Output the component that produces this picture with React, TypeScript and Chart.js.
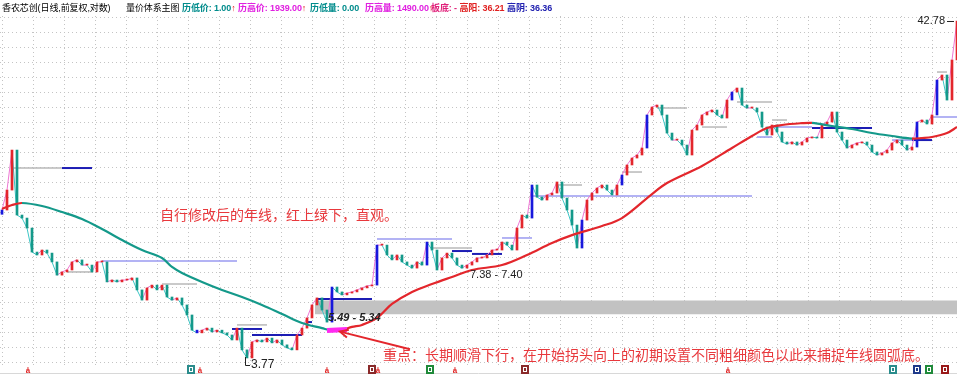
import React, { useEffect, useRef } from 'react';
import { Chart, registerables } from 'chart.js';
Chart.register(...registerables);

// daily closes (log price scale)
const closes = [
  11.13, 12.83, 17.06, 10.74, 10.51, 9.79, 8.25, 8.08, 8.37, 8.19,
  7.69, 7.00, 7.16, 7.26, 7.69, 7.80, 7.52, 7.52, 7.16, 7.69,
  7.69, 6.67, 6.76, 6.67, 6.76, 6.76, 6.86, 6.30, 5.86, 6.39,
  6.52, 6.30, 6.52, 5.99, 5.86, 5.95, 5.66, 5.27, 4.73, 4.64,
  4.73, 4.80, 4.67, 4.73, 4.64, 4.57, 4.41, 4.80, 4.11, 3.88,
  4.35, 4.41, 4.35, 4.47, 4.32, 4.41, 4.26, 4.17, 4.11, 4.57,
  4.80, 5.16, 5.66, 5.95, 5.46, 5.01, 6.43, 6.21, 6.08, 6.16,
  6.21, 6.30, 6.39, 6.48, 6.52, 8.67, 8.67, 8.08, 7.80, 8.08,
  7.69, 7.52, 7.36, 7.69, 7.52, 8.86, 8.37, 7.26, 7.91, 8.19,
  7.91, 7.52, 7.36, 7.52, 7.69, 7.91, 7.91, 8.08, 8.37, 8.37,
  8.86, 8.67, 8.37, 9.79, 10.74, 10.51, 13.30, 12.21, 11.95, 12.39,
  12.56, 13.59, 12.12, 11.13, 10.00, 8.49, 10.36, 11.95, 12.56, 13.02,
  13.30, 12.83, 12.39, 13.30, 14.28, 15.34, 16.12, 16.47, 17.31, 21.90,
  23.18, 23.51, 21.90, 19.26, 18.32, 18.32, 17.68, 16.47, 19.67, 20.39,
  21.90, 22.37, 22.69, 21.90, 21.43, 24.36, 25.79, 26.54, 23.51, 23.02,
  23.02, 22.37, 20.10, 18.99, 20.39, 19.40, 18.07, 17.81, 18.07, 17.68,
  18.07, 18.59, 18.72, 18.59, 20.39, 20.83, 22.37, 19.40, 18.32, 17.31,
  17.68, 17.94, 18.07, 17.68, 16.83, 16.47, 16.71, 17.06, 17.94, 18.32,
  17.68, 17.06, 17.43, 20.83, 21.13, 20.54, 21.90, 28.09, 29.12, 24.36,
  32.40, 42.78,
];

// limit-up style (blue) days
const bigDays = [0, 39, 66, 75, 85, 106, 116, 124, 129, 146, 183, 187];

// annual moving average (年线)
const maDays = [0, 2, 4, 8, 12, 16, 20, 24, 28, 32, 34, 36, 40, 44, 48, 52, 56, 60, 64, 66, 68, 70, 72, 75, 78, 82, 86, 90, 94, 100, 105, 110, 114, 120, 124, 130, 133, 140, 146, 150, 153, 156, 160, 162, 166, 170, 174, 178, 182, 184, 186, 189, 191];
const maValues = [11.21, 11.53, 11.70, 11.45, 10.97, 10.44, 9.72, 8.99, 8.37, 7.91, 7.42, 7.11, 6.67, 6.30, 5.99, 5.66, 5.31, 4.98, 4.80, 4.72, 4.74, 4.84, 4.91, 5.16, 5.70, 6.21, 6.57, 6.91, 7.26, 7.52, 8.08, 8.80, 9.31, 9.93, 10.51, 12.47, 13.49, 15.23, 17.31, 18.86, 19.96, 20.39, 20.66, 20.70, 20.25, 19.82, 19.26, 18.86, 18.52, 18.59, 18.72, 19.26, 20.10];

// turning section of the annual line
const turnDays = [65, 69];
const turnValues = [4.72, 4.75];

// horizontal price levels
const levelStart = [2, 12, 20, 13, 32, 47, 46, 50, 61, 63, 75, 86, 90, 94, 100, 106, 111, 124, 131, 140, 147, 151, 154, 154, 162, 178, 182, 187, 186];
const levelEnd = [12, 18, 47, 18, 39, 53, 52, 60, 62, 74, 90, 94, 94, 100, 106, 150, 116, 128, 137, 145, 154, 154, 157, 162, 174, 182, 186, 189, 191];
const levelPrice = [15.01, 15.01, 7.74, 7.16, 6.57, 4.91, 4.77, 4.57, 5.01, 5.90, 9.05, 8.49, 8.31, 8.14, 9.12, 12.30, 13.30, 14.59, 23.02, 20.10, 24.02, 18.72, 21.13, 20.10, 19.96, 18.32, 18.32, 29.74, 21.59];
const levelKind = ['gray', 'blue', 'lav', 'gray', 'gray', 'gray', 'blue', 'blue', 'blue', 'blue', 'lav', 'gray', 'blue', 'blue', 'lav', 'lav', 'gray', 'gray', 'gray', 'gray', 'gray', 'lav', 'gray', 'lav', 'blue', 'lav', 'blue', 'gray', 'lav'];

// grey zone
const bandStart = 62.6;
const bandEnd = 191.5;
const bandLow = 5.30;
const bandHigh = 5.84;

// price labels
const labelTexts = ['3.77', '5.49 - 5.34', '7.38 - 7.40', '42.78'];
const labelDays = [48.6, 65, 93.6, 191];
const labelPrices = [3.77, 5.16, 7.0, 42.78];

// notes
const noteTexts = ['自行修改后的年线，红上绿下，直观。', '重点：长期顺滑下行，在开始拐头向上的初期设置不同粗细颜色以此来捕捉年线圆弧底。'];
const noteDays = [31.6, 76.2];
const notePrices = [10.74, 3.96];
const arrowFrom = [81.6, 4.13];
const arrowTo = [67.6, 4.68];

// bottom event markers
const markDays = [5.2, 39.6, 65, 75.2, 90.6, 145.2];
const iconDays = [37.8, 74, 85.6, 104.6, 178.2, 183, 185.4, 188.6];
const iconKinds = ['teal', 'brown', 'green', 'brown', 'teal', 'blue', 'green', 'red'];

const RED = '#e3262c';
const TEAL = '#14998a';
const kindColor: Record<string, string> = { gray: '#b8b8b8', blue: '#1c1cb4', lav: '#9a9af0' };
const iconColor: Record<string, string> = { teal: '#2a8c8c', brown: '#8a2a2a', green: '#1f8a3a', blue: '#1f3a8a', red: '#9a1a1a' };

export default function App() {
  const ref = useRef<HTMLCanvasElement>(null);
  useEffect(() => {
    const canvas = ref.current!;
    const candles = closes.map((c, i) => ({ x: i, y: [i ? closes[i - 1] : c * 0.97, c] }));
    const candleColors = closes.map((c, i) => {
      if (bigDays.includes(i)) return '#1818dc';
      const p = i ? closes[i - 1] : c;
      return c >= p ? RED : TEAL;
    });
    const levelSets = levelStart.map((s, k) => ({
      type: 'line' as const,
      data: [{ x: s, y: levelPrice[k] }, { x: levelEnd[k], y: levelPrice[k] }],
      borderColor: kindColor[levelKind[k]],
      borderWidth: levelKind[k] === 'blue' ? 2 : 1.5,
      pointRadius: 0,
      order: 8,
    }));

    const overlay = {
      id: 'overlay',
      beforeDatasetsDraw(chart: any) {
        const { ctx, chartArea } = chart;
        ctx.save();
        ctx.strokeStyle = '#c4c4c4';
        ctx.lineWidth = 1;
        ctx.setLineDash([1, 3]);
        for (let y = 362.5; y > 14; y -= 15) {
          ctx.beginPath(); ctx.moveTo(chartArea.left, y); ctx.lineTo(chartArea.right, y); ctx.stroke();
        }
        for (let x = 2.5; x < chartArea.right; x += 31) {
          ctx.beginPath(); ctx.moveTo(x, 16); ctx.lineTo(x, 366); ctx.stroke();
        }
        ctx.setLineDash([]);
        ctx.strokeStyle = '#d8d8d8';
        ctx.beginPath(); ctx.moveTo(0, 373.5); ctx.lineTo(chartArea.right, 373.5); ctx.stroke();
        ctx.restore();
      },
      afterDatasetsDraw(chart: any) {
        const { ctx } = chart;
        const xs = chart.scales.x, ys = chart.scales.y;
        ctx.save();
        ctx.fillStyle = '#222';
        ctx.strokeStyle = '#222';
        ctx.lineWidth = 1;
        ctx.textBaseline = 'middle';
        // 3.77
        let x = xs.getPixelForValue(labelDays[0]), y = ys.getPixelForValue(labelPrices[0]);
        ctx.beginPath(); ctx.moveTo(x + 0.5, y - 5); ctx.lineTo(x + 0.5, y + 3.5); ctx.lineTo(x + 5, y + 3.5); ctx.stroke();
        ctx.font = '12px "Liberation Sans", Arial';
        ctx.textAlign = 'left';
        ctx.fillText(labelTexts[0], x + 6, y + 3);
        // 5.49 - 5.34
        x = xs.getPixelForValue(labelDays[1]); y = ys.getPixelForValue(labelPrices[1]);
        ctx.font = 'italic bold 11px "Liberation Sans", Arial';
        ctx.fillText(labelTexts[1], x + 1, y);
        // 7.38 - 7.40
        x = xs.getPixelForValue(labelDays[2]); y = ys.getPixelForValue(labelPrices[2]);
        ctx.font = '11px "Liberation Sans", Arial';
        ctx.fillText(labelTexts[2], x, y);
        // 42.78
        x = xs.getPixelForValue(labelDays[3]); y = ys.getPixelForValue(labelPrices[3]);
        ctx.textAlign = 'right';
        ctx.fillText(labelTexts[3], x - 12, y);
        ctx.beginPath(); ctx.moveTo(x - 10, y + 0.5); ctx.lineTo(x - 3, y + 0.5); ctx.stroke();
        // notes
        ctx.fillStyle = '#e8383c';
        ctx.font = '14px "Noto Sans CJK SC"';
        ctx.textAlign = 'left';
        noteTexts.forEach((t, k) => {
          ctx.fillText(t, xs.getPixelForValue(noteDays[k]), ys.getPixelForValue(notePrices[k]));
        });
        // arrow
        const ax0 = xs.getPixelForValue(arrowFrom[0]), ay0 = ys.getPixelForValue(arrowFrom[1]);
        const ax1 = xs.getPixelForValue(arrowTo[0]), ay1 = ys.getPixelForValue(arrowTo[1]);
        ctx.strokeStyle = '#e3262c';
        ctx.lineWidth = 2;
        ctx.beginPath(); ctx.moveTo(ax0, ay0); ctx.lineTo(ax1, ay1); ctx.stroke();
        const ang = Math.atan2(ay1 - ay0, ax1 - ax0);
        ctx.beginPath();
        ctx.moveTo(ax1 - 9 * Math.cos(ang - 0.45), ay1 - 9 * Math.sin(ang - 0.45));
        ctx.lineTo(ax1, ay1);
        ctx.lineTo(ax1 - 9 * Math.cos(ang + 0.45), ay1 - 9 * Math.sin(ang + 0.45));
        ctx.stroke();
        // bottom markers
        ctx.lineWidth = 1;
        markDays.forEach((d) => {
          const mx = Math.round(xs.getPixelForValue(d));
          ctx.fillStyle = '#e02020';
          ctx.font = 'bold 8px Arial';
          ctx.textAlign = 'center';
          ctx.fillText('å', mx, 371);
        });
        iconDays.forEach((d, k) => {
          const mx = Math.round(xs.getPixelForValue(d));
          ctx.fillStyle = iconColor[iconKinds[k]];
          ctx.fillRect(mx - 4, 365, 8, 9);
          ctx.fillStyle = '#fff';
          ctx.fillRect(mx - 2, 367, 4, 5);
          ctx.fillStyle = iconColor[iconKinds[k]];
          ctx.fillRect(mx - 1, 368, 2, 3);
        });
        ctx.restore();
      },
    };

    const chart = new Chart(canvas, {
      type: 'bar',
      data: {
        datasets: [
          {
            type: 'line',
            data: [{ x: bandStart, y: bandHigh }, { x: bandEnd, y: bandHigh }],
            borderWidth: 0,
            borderColor: 'rgba(0,0,0,0)',
            pointRadius: 0,
            order: 10,
          },
          {
            type: 'line',
            data: [{ x: bandStart, y: bandLow }, { x: bandEnd, y: bandLow }],
            borderWidth: 0,
            borderColor: 'rgba(0,0,0,0)',
            backgroundColor: '#c2c2c2',
            fill: '-1',
            pointRadius: 0,
            order: 9,
          },
          ...levelSets,
          {
            type: 'line',
            data: closes.map((c, i) => ({ x: i, y: c })),
            borderWidth: 1,
            borderColor: '#3cc6c6',
            pointRadius: 0,
            segment: {
              borderColor: (c: any) => (c.p1.parsed.y >= c.p0.parsed.y ? '#ee78d4' : '#3cc6c6'),
            },
            order: 6,
          },
          {
            type: 'bar',
            data: candles as any,
            backgroundColor: candleColors,
            barThickness: 2,
            minBarLength: 1,
            order: 5,
          },
          {
            type: 'line',
            data: maDays.map((d, k) => ({ x: d, y: maValues[k] })),
            borderWidth: 2.2,
            borderColor: TEAL,
            tension: 0.35,
            pointRadius: 0,
            segment: {
              borderColor: (c: any) => (c.p1.parsed.y > c.p0.parsed.y ? RED : TEAL),
            },
            order: 2,
          },
          {
            type: 'line',
            data: turnDays.map((d, k) => ({ x: d, y: turnValues[k] })),
            borderWidth: 5,
            borderColor: '#ff2af0',
            pointRadius: 0,
            order: 1,
          },
        ] as any,
      },
      options: {
        animation: false,
        responsive: false,
        maintainAspectRatio: false,
        layout: { padding: 0 },
        plugins: { legend: { display: false }, tooltip: { enabled: false } },
        scales: {
          x: { type: 'linear', min: -0.4, max: 191, offset: false, display: false, grid: { offset: false } },
          y: { type: 'logarithmic', min: 3.388, max: 49.68, display: false },
        },
      },
      plugins: [overlay],
    });
    return () => chart.destroy();
  }, []);

  const hs: React.CSSProperties = { position: 'absolute', top: 2, whiteSpace: 'nowrap', font: 'bold 9px "Liberation Sans", Arial, "Noto Sans CJK SC", sans-serif', lineHeight: '12px', letterSpacing: '-0.1px' };
  return (
    <div style={{ position: 'absolute', left: 0, top: 0, width: 957, height: 377, background: '#fff', overflow: 'hidden' }}>
      <canvas ref={ref} width={957} height={377} style={{ position: 'absolute', left: 0, top: 0 }} />
      <span style={{ ...hs, left: 2, color: '#000', fontWeight: 'normal' }}>香农芯创(日线,前复权,对数)</span>
      <span style={{ ...hs, left: 126, color: '#000', fontWeight: 'normal' }}>量价体系主图</span>
      <span style={{ ...hs, left: 182, color: '#008c8c' }}>历低价: 1.00<span style={{ color: '#e02020' }}>↑</span></span>
      <span style={{ ...hs, left: 238, color: '#e020e0' }}>历高价: 1939.00<span style={{ color: '#e02020' }}>↑</span></span>
      <span style={{ ...hs, left: 310, color: '#008c8c' }}>历低量: 0.00</span>
      <span style={{ ...hs, left: 365, color: '#e020e0' }}>历高量: 1490.00<span style={{ color: '#e02020' }}>↑</span></span>
      <span style={{ ...hs, left: 431, color: '#e0207a' }}>板底: - <span style={{ color: '#e02020' }}>高阳: 36.21</span></span>
      <span style={{ ...hs, left: 507, color: '#2020b0' }}>高阴: 36.36</span>
    </div>
  );
}
